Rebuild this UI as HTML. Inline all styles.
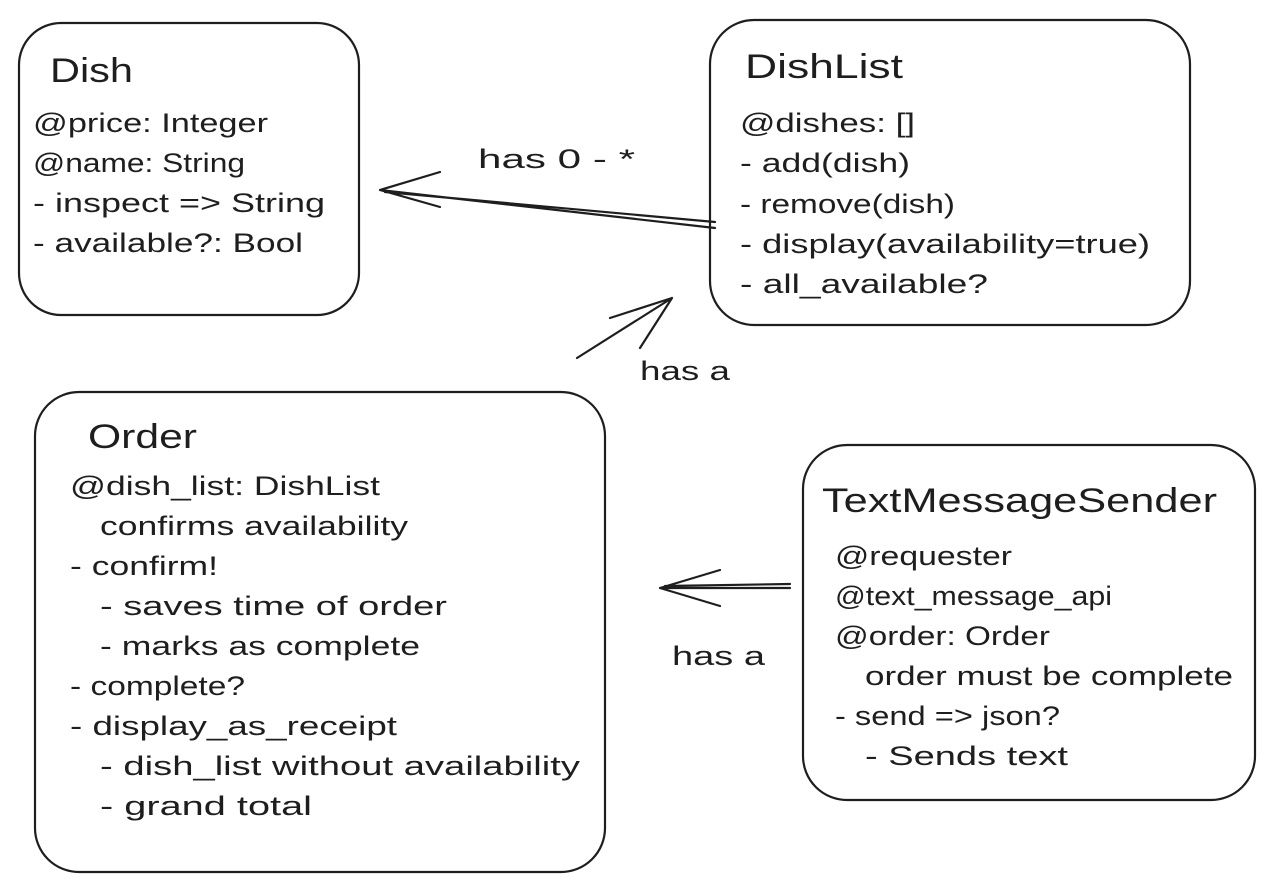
<!DOCTYPE html>
<html><head><meta charset="utf-8"><style>
html,body{margin:0;padding:0;background:#fff;}
svg{display:block}
text{font-family:"Liberation Sans",sans-serif;fill:#1e1e1e;font-size:27px;}
.t{font-size:34px;}
</style></head><body>
<svg width="1280" height="891" viewBox="0 0 1280 891" xmlns="http://www.w3.org/2000/svg">
<g fill="none" stroke="#1e1e1e" stroke-width="2.2" stroke-linecap="round">
<rect x="19" y="23" width="340" height="292" rx="42"/>
<rect x="710" y="20" width="480" height="305" rx="44"/>
<rect x="35" y="392" width="570" height="480" rx="44"/>
<rect x="803" y="445" width="452" height="355" rx="44"/>
<path d="M715 228 L380 190 M380 190 L440 172 M380 190 L440 207 M715 222 L385 192"/>
<path d="M577 358 L672 298 M672 298 L610 318 M672 298 L640 348"/>
<path d="M790 588 L660 588 M660 588 L720 570 M660 588 L720 606 M790 584 L665 586"/>
</g>
<g lengthAdjust="spacingAndGlyphs">
<text class="t" x="50" y="82" textLength="83" lengthAdjust="spacingAndGlyphs">Dish</text>
<text x="33" y="132" textLength="235" lengthAdjust="spacingAndGlyphs">@price: Integer</text>
<text x="33" y="172" textLength="212" lengthAdjust="spacingAndGlyphs">@name: String</text>
<text x="33" y="212" textLength="292" lengthAdjust="spacingAndGlyphs">- inspect =&gt; String</text>
<text x="33" y="252" textLength="270" lengthAdjust="spacingAndGlyphs">- available?: Bool</text>
<text class="t" x="745" y="78" textLength="158" lengthAdjust="spacingAndGlyphs">DishList</text>
<text x="740" y="132" textLength="175" lengthAdjust="spacingAndGlyphs">@dishes: []</text>
<text x="740" y="172" textLength="170" lengthAdjust="spacingAndGlyphs">- add(dish)</text>
<text x="740" y="213" textLength="215" lengthAdjust="spacingAndGlyphs">- remove(dish)</text>
<text x="740" y="253" textLength="410" lengthAdjust="spacingAndGlyphs">- display(availability=true)</text>
<text x="740" y="293" textLength="248" lengthAdjust="spacingAndGlyphs">- all_available?</text>
<text x="478" y="168" textLength="157" lengthAdjust="spacingAndGlyphs">has 0 - *</text>
<text x="640" y="380" textLength="90" lengthAdjust="spacingAndGlyphs">has a</text>
<text x="672" y="665" textLength="93" lengthAdjust="spacingAndGlyphs">has a</text>
<text class="t" x="88" y="448" textLength="109" lengthAdjust="spacingAndGlyphs">Order</text>
<text x="70" y="495" textLength="310" lengthAdjust="spacingAndGlyphs">@dish_list: DishList</text>
<text x="100" y="535" textLength="308" lengthAdjust="spacingAndGlyphs">confirms availability</text>
<text x="70" y="575" textLength="148" lengthAdjust="spacingAndGlyphs">- confirm!</text>
<text x="100" y="615" textLength="347" lengthAdjust="spacingAndGlyphs">- saves time of order</text>
<text x="100" y="655" textLength="320" lengthAdjust="spacingAndGlyphs">- marks as complete</text>
<text x="70" y="695" textLength="175" lengthAdjust="spacingAndGlyphs">- complete?</text>
<text x="70" y="735" textLength="327" lengthAdjust="spacingAndGlyphs">- display_as_receipt</text>
<text x="100" y="775" textLength="480" lengthAdjust="spacingAndGlyphs">- dish_list without availability</text>
<text x="100" y="815" textLength="212" lengthAdjust="spacingAndGlyphs">- grand total</text>
<text class="t" x="822" y="512" textLength="395" lengthAdjust="spacingAndGlyphs">TextMessageSender</text>
<text x="835" y="565" textLength="177" lengthAdjust="spacingAndGlyphs">@requester</text>
<text x="835" y="605" textLength="277" lengthAdjust="spacingAndGlyphs">@text_message_api</text>
<text x="835" y="645" textLength="215" lengthAdjust="spacingAndGlyphs">@order: Order</text>
<text x="865" y="685" textLength="368" lengthAdjust="spacingAndGlyphs">order must be complete</text>
<text x="835" y="725" textLength="225" lengthAdjust="spacingAndGlyphs">- send =&gt; json?</text>
<text x="865" y="765" textLength="203" lengthAdjust="spacingAndGlyphs">- Sends text</text>
</g>
</svg>
</body></html>
